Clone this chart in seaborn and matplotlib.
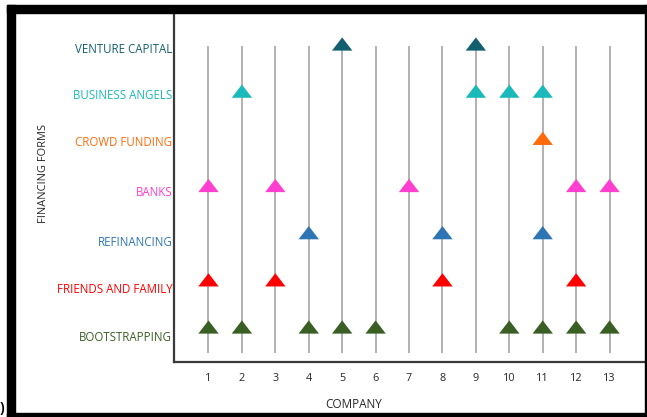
import matplotlib
matplotlib.use("Agg")
import matplotlib.pyplot as plt
import seaborn as sns
import pandas as pd
from matplotlib.patches import Rectangle
from matplotlib.transforms import ScaledTranslation

# ---------------- data ----------------
forms = ["BOOTSTRAPPING", "FRIENDS AND FAMILY", "REFINANCING", "BANKS",
         "CROWD FUNDING", "BUSINESS ANGELS", "VENTURE CAPITAL"]
companies = list(range(1, 14))

bootstrapping = [1, 2, 4, 5, 6, 10, 11, 12, 13]
friends_family = [1, 3, 8, 12]
refinancing = [4, 8, 11]
banks = [1, 3, 7, 12, 13]
crowd_funding = [11]
business_angels = [2, 9, 10, 11]
venture_capital = [5, 9]

form_colors = ["#3A5F24", "#FF0000", "#2E75B6", "#FF3FCF",
               "#FF6A0A", "#1ABABA", "#12606F"]

members = [bootstrapping, friends_family, refinancing, banks,
           crowd_funding, business_angels, venture_capital]

rows = []
for level, (form, comps) in enumerate(zip(forms, members)):
    for c in comps:
        rows.append({"company": c, "form": form, "level": level})
df = pd.DataFrame(rows)

# ---------------- figure ----------------
sns.set_theme(style="white")
plt.rcParams["font.family"] = ["Open Sans", "DejaVu Sans"]

W, H = 647, 417
fig = plt.figure(figsize=(W / 100, H / 100), dpi=100)
ax = fig.add_axes([174 / W, (H - 362) / H, (645 - 174) / W, (362 - 12.5) / H])

# vertical guide lines per company
ax.vlines(companies, -0.55, 5.96, color="#ABABAB", linewidth=1.3, zorder=1)

tri = [(-1, -0.65), (1, -0.65), (0, 0.65)]
sns.scatterplot(data=df, x="company", y="level", hue="form",
                hue_order=forms, palette=form_colors, marker=tri, s=215,
                edgecolor="none", linewidth=0, legend=False, ax=ax, zorder=3)

ax.set_xlim(-0.032, 14.06)
ax.set_ylim(-0.742, 6.668)

ax.set_xticks(companies)
ax.set_xticklabels([str(c) for c in companies])
ax.tick_params(axis="x", length=0, pad=8, labelsize=7.8, labelcolor="#262626")

ax.set_yticks(range(len(forms)))
ax.set_yticklabels(forms)
ax.tick_params(axis="y", length=0, pad=1.2, labelsize=8.3)
label_shift = [-8.5, -8, -8, -5, -2.5, -2.5, -4]
for lab, col, dy in zip(ax.get_yticklabels(), form_colors, label_shift):
    lab.set_color(col)
    lab.set_transform(lab.get_transform() + ScaledTranslation(0, dy / 100, fig.dpi_scale_trans))

ax.set_xlabel("COMPANY", fontsize=8.5, color="#262626")
ax.set_ylabel("FINANCING FORMS", fontsize=7.9, color="#262626")
ax.xaxis.set_label_coords(0.382, -0.102)
ax.yaxis.set_label_coords(-0.265, 0.54)

for side in ["top", "right"]:
    ax.spines[side].set_visible(False)
for side in ["left", "bottom"]:
    ax.spines[side].set_visible(True)
    ax.spines[side].set_color("#3A3A3A")
    ax.spines[side].set_linewidth(1.6)

# outer black frame
def px_rect(x0, y0, x1, y1):
    fig.patches.append(Rectangle((x0 / W, (H - y1) / H), (x1 - x0) / W, (y1 - y0) / H,
                                 transform=fig.transFigure, color="black", zorder=10))

px_rect(7.3, 5.3, W, 12.7)     # top
px_rect(7.3, 5.3, 15.2, H)     # left
px_rect(7.3, 412.7, W, H)      # bottom
px_rect(644.5, 5.3, 646.5, H)  # right

fig.text(0.0, (H - 408) / H, ")", fontsize=10, fontweight="bold", color="black",
         ha="left", va="center")

fig.savefig("out.png", dpi=100)
